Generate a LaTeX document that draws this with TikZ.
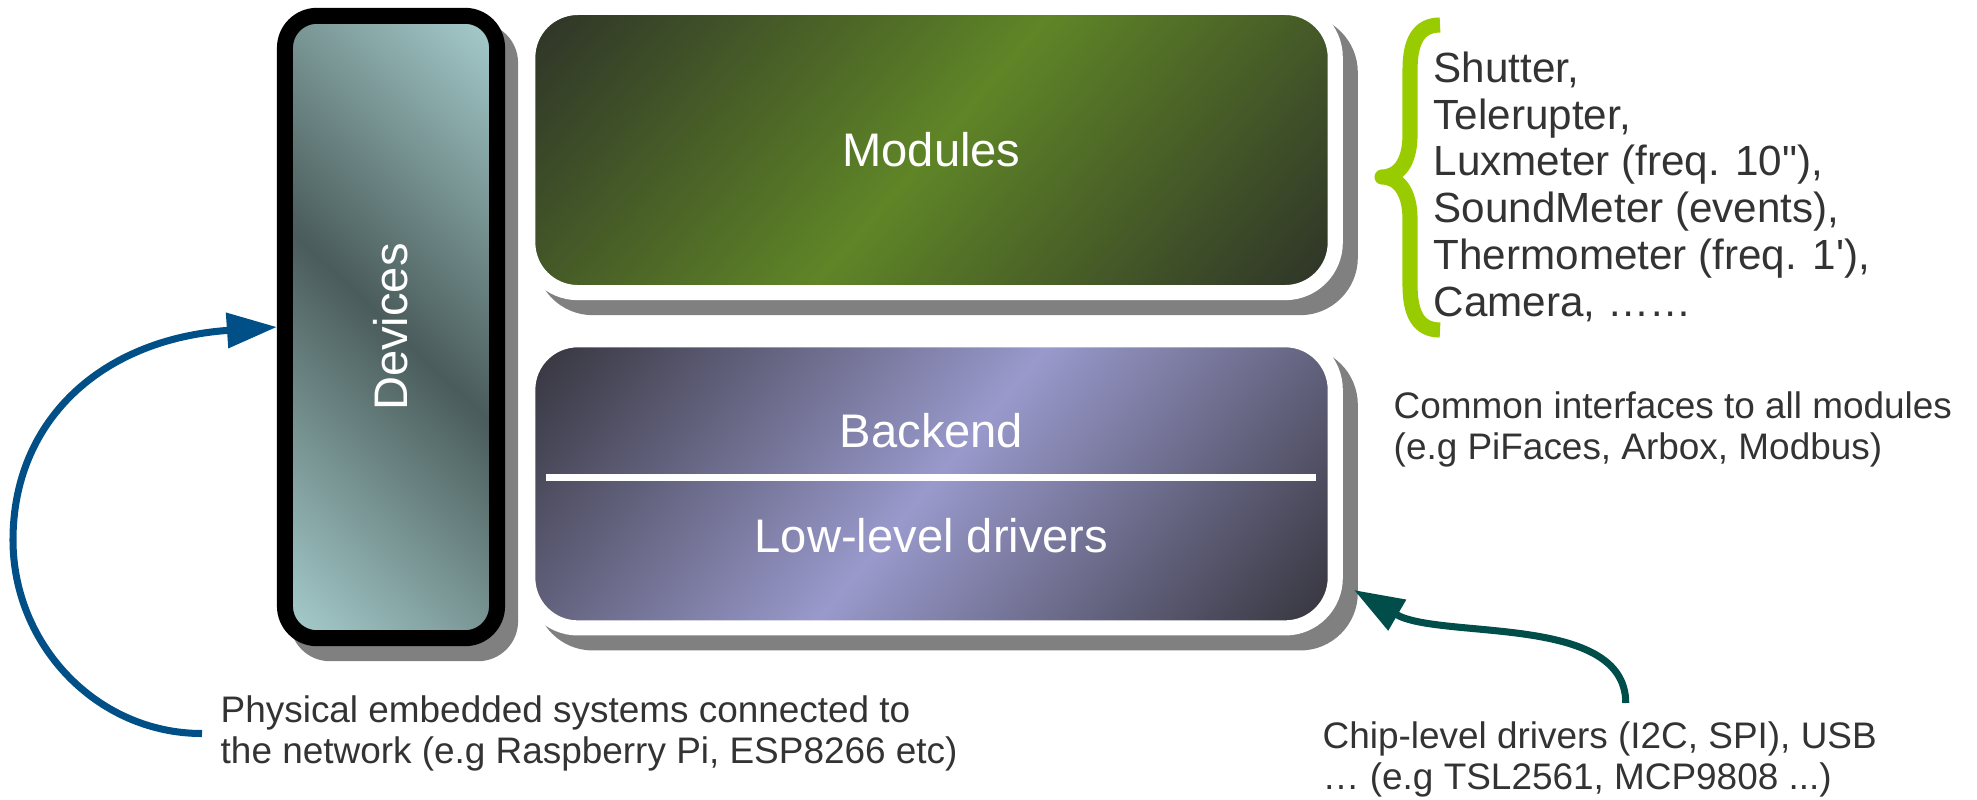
\documentclass[tikz,border=0pt]{standalone}
\usepackage{fontspec}
\setmainfont{Liberation Sans}
\usetikzlibrary{arrows.meta,positioning}
\definecolor{moddark}{RGB}{44,48,40}
\definecolor{modlight}{RGB}{95,133,39}
\definecolor{bedark}{RGB}{50,49,56}
\definecolor{belight}{RGB}{153,153,204}
\definecolor{devlight}{RGB}{176,216,216}
\definecolor{devdark}{RGB}{74,92,91}
\definecolor{shadowgray}{RGB}{128,128,128}
\definecolor{bracegreen}{RGB}{153,204,0}
\definecolor{txtgray}{RGB}{51,51,51}
\definecolor{linkblue}{RGB}{0,80,135}
\definecolor{linkteal}{RGB}{0,77,73}
\tikzset{
  sheen/.style n args={5}{path picture={
    \shade[top color=#1,bottom color=#1,middle color=#2,
      transform canvas={rotate around={#3:(path picture bounding box.center)}}]
      ([shift={(-#4,-#5)}]path picture bounding box.center)
      rectangle ([shift={(#4,#5)}]path picture bounding box.center);}},
  layer/.style={rounded corners=0.5cm,draw=white,line width=4.3pt,
    minimum width=8.07cm,text=white,font=\fontsize{13.4}{16}\selectfont,
    preaction={fill=shadowgray,draw=shadowgray,line width=4.3pt,
      transform canvas={shift={(0.15cm,-0.15cm)}}}},
  devbox/.style={rounded corners=0.32cm,draw=black,line width=4.55pt,
    minimum width=2.12cm,minimum height=6.22cm,text=white,
    font=\fontsize{13.4}{16}\selectfont,
    sheen={devlight}{devdark}{-44}{3.4cm}{3.2cm},
    preaction={fill=shadowgray,draw=shadowgray,line width=4.55pt,
      transform canvas={shift={(0.13cm,-0.15cm)}}}},
  boxtext/.style={text=white,inner sep=0pt,font=\fontsize{13.4}{16}\selectfont},
  divider/.style={draw=white,line width=2pt},
  note/.style={text=txtgray,align=left,inner sep=0.18cm,
    font=\fontsize{10.5}{11.7}\selectfont},
  listtext/.style={note,font=\fontsize{12}{13.3}\selectfont},
  curlybrace/.style={draw=bracegreen,line width=4.3pt,line join=round},
  link/.style={line width=2pt,-{Triangle[length=0.5cm,width=0.34cm]}}
}
\begin{document}
\begin{tikzpicture}[x=0.01cm,y=-0.01cm]
  \useasboundingbox (0,0) rectangle (1977,799);

  \node[devbox] (devices) at (391,327) {\rotatebox{90}{Devices}};
  \node[layer,minimum height=2.85cm,sheen={moddark}{modlight}{49}{4.4cm}{4.05cm}]
    (modules) at (931.5,150) {Modules};
  \node[layer,minimum height=2.88cm,below=0.32cm of modules,
    sheen={bedark}{belight}{50}{4.4cm}{4.05cm}] (backend) {};
  \node[boxtext] (bkname) at ([yshift=0.535cm]backend.center) {Backend};
  \node[boxtext] (lowlevel) at ([yshift=-0.52cm]backend.center) {Low-level drivers};
  \draw[divider] ([xshift=0.26cm,yshift=0.065cm]backend.west)
    -- ([xshift=-0.27cm,yshift=0.065cm]backend.east);

  \draw[curlybrace] (1440,25) .. controls (1418,25) and (1410,42) .. (1410,70)
    -- (1410,135) .. controls (1410,163) and (1398,177) .. (1382,177)
    .. controls (1398,177) and (1410,191) .. (1410,219)
    -- (1410,285) .. controls (1410,313) and (1418,330) .. (1440,330);

  \node[listtext,anchor=north west] (modlist) at (1415,33)
    {Shutter,\\Telerupter,\\Luxmeter (freq. 10\textquotedbl),\\SoundMeter (events),\\Thermometer (freq. 1\textquotesingle),\\Camera, ……};
  \node[note,anchor=north west] (common) at (1375,373)
    {Common interfaces to all modules\\(e.g PiFaces, Arbox, Modbus)};
  \node[note,anchor=north west] (phys) at (202,677)
    {Physical embedded systems connected to\\the network (e.g Raspberry Pi, ESP8266 etc)};
  \node[note,anchor=north west] (chip) at (1304,703)
    {Chip-level drivers (I2C, SPI), USB\\… (e.g TSL2561, MCP9808 ...)};

  \coordinate (loopleft) at (13,540);
  \coordinate (drvtip) at (1354,590);
  \draw[link,linkblue] (phys.west) .. controls +(-105,0) and +(0,105) .. (loopleft)
    .. controls +(0,-120) and +(-175,12) .. (devices.west);
  \draw[link,linkteal] ([xshift=0.26cm]chip.north) .. controls +(0,-90) and +(86,50) .. (drvtip);
\end{tikzpicture}
\end{document}
